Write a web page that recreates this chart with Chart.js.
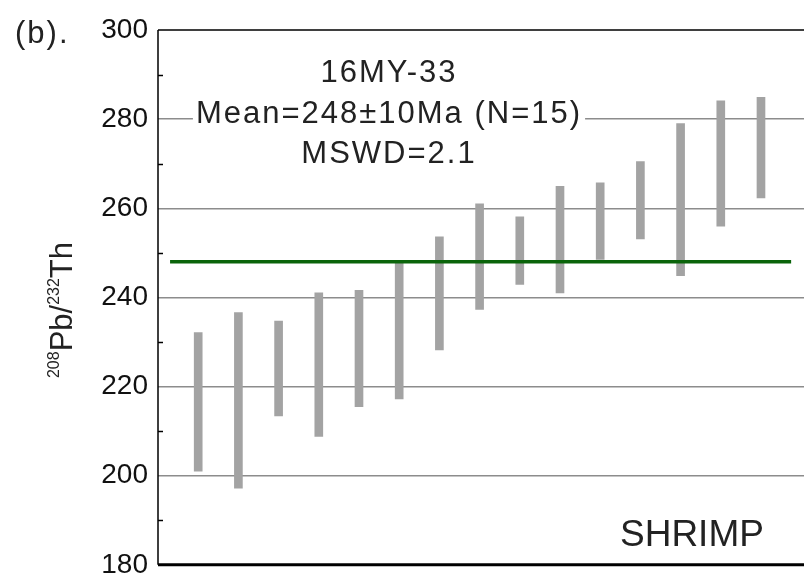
<!DOCTYPE html>
<html>
<head>
<meta charset="utf-8">
<script src="https://cdn.jsdelivr.net/npm/chart.js@4.4.0/dist/chart.umd.min.js"></script>
<style>
  html, body { margin: 0; padding: 0; background: #fff; }
  canvas { display: block; }
</style>
</head>
<body>
<canvas id="chart" width="804" height="579"></canvas>
<script>
// spot number (analysis order) and 208Pb/232Th age error bars (Ma)
const spots = [1, 2, 3, 4, 5, 6, 7, 8, 9, 10, 11, 12, 13, 14, 15]
const ageLow = [201.0, 197.2, 213.4, 208.8, 215.5, 217.2, 228.2, 237.3, 242.9, 241.0, 248.5, 253.1, 244.9, 256.0, 262.3]
const ageHigh = [232.1, 236.6, 234.7, 241.0, 241.6, 247.8, 253.6, 261.0, 258.1, 264.9, 265.7, 270.5, 279.0, 284.1, 284.9]
const meanAge = 248
const meanSpan = [0.3, 15.75]
const yTicks = [180, 200, 220, 240, 260, 280, 300]
const minorTicks = [190, 210, 230, 250, 270, 290]
const labelLines = ['16MY-33', 'Mean=248±10Ma (N=15)', 'MSWD=2.1']

const FONT = "'Liberation Sans', Arial, sans-serif"

const decorations = {
  id: 'decorations',
  afterDraw (chart) {
    const ctx = chart.ctx
    const area = chart.chartArea
    const y = chart.scales.y
    ctx.save()

    // frame
    ctx.strokeStyle = '#000'
    ctx.lineWidth = 1.5
    ctx.beginPath()
    ctx.moveTo(area.left, area.top)
    ctx.lineTo(area.right, area.top)
    ctx.moveTo(area.left, area.top)
    ctx.lineTo(area.left, area.bottom)
    ctx.stroke()
    ctx.lineWidth = 3
    ctx.beginPath()
    ctx.moveTo(area.left, area.bottom)
    ctx.lineTo(area.right, area.bottom)
    ctx.stroke()

    // minor ticks inside left axis
    ctx.lineWidth = 1.5
    minorTicks.forEach(v => {
      const py = Math.round(y.getPixelForValue(v)) + 0.5
      ctx.beginPath()
      ctx.moveTo(area.left, py)
      ctx.lineTo(area.left + 5, py)
      ctx.stroke()
    })

    // sample label with white backing over the grid line
    ctx.font = '31px ' + FONT
    ctx.letterSpacing = '2px'
    ctx.textAlign = 'center'
    ctx.textBaseline = 'alphabetic'
    const cx = 389
    const base = [82, 123, 163]
    labelLines.forEach((t, i) => {
      const w = ctx.measureText(t).width
      ctx.fillStyle = '#fff'
      ctx.fillRect(cx - w / 2 - 3, base[i] - 26, w + 6, 32)
    })
    ctx.fillStyle = '#222'
    labelLines.forEach((t, i) => ctx.fillText(t, cx, base[i]))
    ctx.letterSpacing = '0px'

    // method label
    ctx.font = '37px ' + FONT
    ctx.textAlign = 'left'
    ctx.fillStyle = '#222'
    ctx.fillText('SHRIMP', 620, 546)

    // panel letter
    ctx.font = '31px ' + FONT
    ctx.letterSpacing = '2px'
    ctx.fillStyle = '#222'
    ctx.fillText('(b).', 15, 43)
    ctx.letterSpacing = '0px'

    // y axis title with superscripts, rotated
    ctx.translate(72, 310)
    ctx.rotate(-Math.PI / 2)
    const parts = [['208', true], ['Pb/', false], ['232', true], ['Th', false]]
    let total = 0
    parts.forEach(([t, sup]) => {
      ctx.font = (sup ? '16px ' : '31px ') + FONT
      total += ctx.measureText(t).width
    })
    let px = -total / 2
    parts.forEach(([t, sup]) => {
      ctx.font = (sup ? '16px ' : '31px ') + FONT
      ctx.fillText(t, px, sup ? -13 : 0)
      px += ctx.measureText(t).width
    })
    ctx.restore()
  }
}

const config = {
  type: 'bar',
  data: {
    datasets: [{
      type: 'line',
      data: meanSpan.map(s => ({ x: s, y: meanAge })),
      borderColor: '#0a640a',
      borderWidth: 3.5,
      pointRadius: 0,
      order: 0
    }, {
      type: 'bar',
      data: spots.map((s, i) => ({ x: s, y: [ageLow[i], ageHigh[i]] })),
      backgroundColor: '#a3a3a3',
      barThickness: 8,
      borderSkipped: false,
      order: 1
    }]
  },
  options: {
    responsive: false,
    animation: false,
    layout: { padding: { top: 30, bottom: 0, left: 0, right: 0 } },
    plugins: { legend: { display: false }, tooltip: { enabled: false } },
    scales: {
      x: {
        type: 'linear',
        min: 0,
        max: 16.07,
        offset: false,
        display: false
      },
      y: {
        min: 180,
        max: 300,
        afterBuildTicks: scale => { scale.ticks = yTicks.map(v => ({ value: v })) },
        afterFit: scale => { scale.width = 158 },
        ticks: {
          color: '#111',
          padding: 10,
          font: { family: FONT, size: 28, lineHeight: 0.3 }
        },
        grid: {
          drawTicks: false,
          lineWidth: 1.5,
          color: c => (c.tick && (c.tick.value === 180 || c.tick.value === 300)) ? 'rgba(0,0,0,0)' : '#8c8c8c'
        },
        border: { display: false }
      }
    }
  },
  plugins: [decorations]
}

window.chart = new Chart(document.getElementById('chart').getContext('2d'), config)
</script>
</body>
</html>
